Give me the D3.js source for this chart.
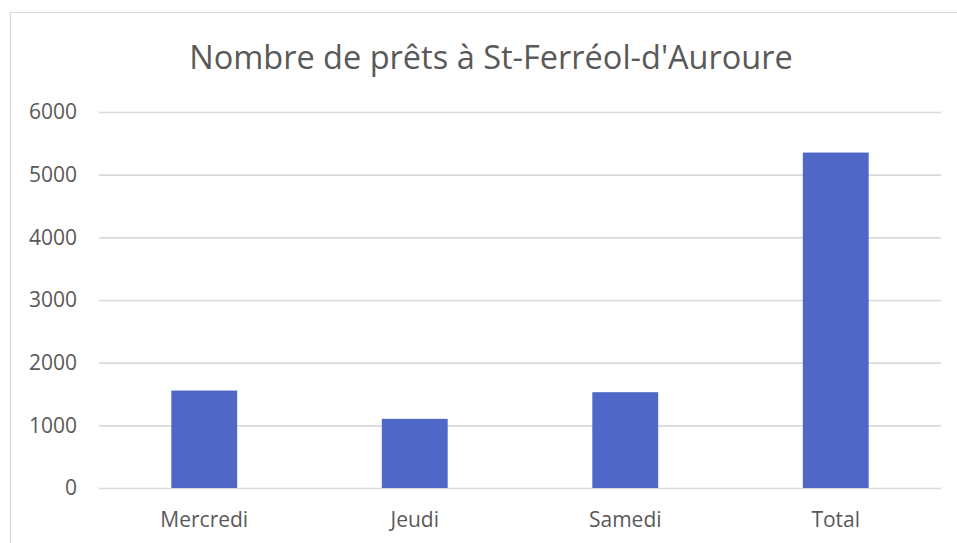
<!DOCTYPE html>
<html>
<head>
<meta charset="utf-8">
<script src="https://cdn.jsdelivr.net/npm/d3@7"></script>
<style>
  body { margin: 0; background: #fff; }
  text { font-family: "Open Sans", sans-serif; fill: #595959; }
</style>
</head>
<body>
<div class="sandbox"></div>
<script>
var categories = ["Mercredi", "Jeudi", "Samedi", "Total"];
var values = [1555, 1104, 1529, 5353];
var yTicks = [0, 1000, 2000, 3000, 4000, 5000, 6000];
var title = "Nombre de prêts à St-Ferréol-d'Auroure";

var w = 957, h = 543;
var m = { top: 112, right: 16, bottom: 55, left: 99 };

var svg = d3.select(".sandbox")
  .append("svg")
  .attr("width", w)
  .attr("height", h);

// chart frame
svg.append("rect")
  .attr("x", 10.5)
  .attr("y", 12.5)
  .attr("width", w + 20)
  .attr("height", h + 20)
  .attr("fill", "none")
  .attr("stroke", "#d9d9d9")
  .attr("stroke-width", 1);

var x = d3.scaleBand()
  .domain(categories)
  .range([m.left, w - m.right])
  .paddingInner(0.687)
  .paddingOuter(0.3435);

var y = d3.scaleLinear()
  .domain([0, 6000])
  .range([h - m.bottom, m.top]);

var grid = svg.append("g")
  .attr("transform", "translate(" + m.left + ",0)")
  .call(d3.axisLeft(y).tickValues(yTicks).tickSize(-(w - m.right - m.left)).tickFormat(""));
grid.select(".domain").remove();
grid.selectAll("line").attr("stroke", "#d9d9d9").attr("stroke-width", 1.6);

var yAxis = svg.append("g")
  .attr("transform", "translate(" + (m.left - 22) + ",0)")
  .call(d3.axisLeft(y).tickValues(yTicks).tickFormat(d3.format("d")).tickSize(0).tickPadding(0));
yAxis.select(".domain").remove();
yAxis.selectAll("text")
  .style("font-size", "21px")
  .attr("fill", "#595959");

svg.append("g")
  .selectAll("rect")
  .data(values)
  .enter()
  .append("rect")
  .attr("x", (d, i) => x(categories[i]))
  .attr("y", d => y(d))
  .attr("width", x.bandwidth())
  .attr("height", d => y(0) - y(d))
  .attr("fill", "#4f68c7");

var xAxis = svg.append("g")
  .attr("transform", "translate(0," + (h - m.bottom) + ")")
  .call(d3.axisBottom(x).tickSize(0).tickPadding(24));
xAxis.select(".domain").remove();
xAxis.selectAll("text")
  .style("font-size", "21px")
  .attr("fill", "#595959");

svg.append("text")
  .attr("x", 491)
  .attr("y", 69)
  .attr("text-anchor", "middle")
  .style("font-size", "32.5px")
  .text(title);
</script>
</body>
</html>
